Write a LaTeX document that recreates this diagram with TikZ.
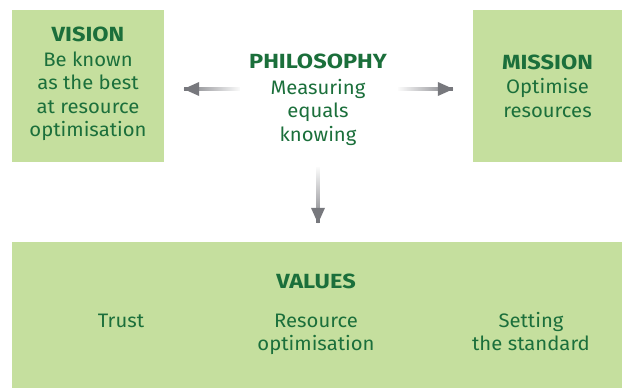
\documentclass[tikz,border=0pt]{standalone}
\usepackage{fontspec}
\setmainfont{Fira Sans}[FakeStretch=1.04]
\newfontfamily\headfont{Fira Sans}[FakeStretch=1.15]
\usetikzlibrary{arrows.meta,fadings}
\definecolor{leaf}{HTML}{C5DF9E}
\definecolor{ink}{HTML}{1B6F3B}
\definecolor{steel}{HTML}{77787D}
\newcommand{\headline}[1]{{\headfont\bfseries\fontsize{20.5}{23.5}\selectfont #1}}
% opaque at the head (left), gone at the tail (right)
\tikzfading[name=tailfade, left color=transparent!0, middle color=transparent!25,
	right color=transparent!100]
\tikzset{
	box/.style={fill=leaf, inner sep=0pt},
	word/.style={align=center, text=ink, inner sep=0pt, anchor=base,
		font=\fontsize{19.5}{23.5}\selectfont},
	shaft/.style={steel, line width=3.5pt, shorten >=8pt},
	tip/.style={steel, line width=3.5pt,
		-{Triangle[length=16pt,width=13pt]}}
}
\begin{document}
\begin{tikzpicture}
	[x=1pt,y=-1pt]
	\useasboundingbox (0,0) rectangle (622,388);
	% boxes
	\node[box, minimum width=152, minimum height=152] (vision) at (88,86) {};
	\node[box, minimum width=149, minimum height=152] (mission) at (547.5,86) {};
	\node[box, minimum width=610, minimum height=146] (values) at (317,315) {};
	% texts (placed at the baseline of their last line)
	\node[word] (vtext) at (88,136.5)
		{\headline{VISION}\\[1.5pt]Be known\\as the best\\at resource\\optimisation};
	\node[word] (mtext) at (547.5,117)
		{\headline{MISSION}\\[0.5pt]Optimise\\resources};
	\node[word] (phil) at (318,141)
		{\headline{PHILOSOPHY}\\[2pt]Measuring\\equals\\knowing};
	\node[word] (title) at (316,288) {\headline{VALUES}};
	\node[word] (trust) at (121,327.7) {Trust};
	\node[word] (resource) at (316,350.5) {Resource\\optimisation};
	\node[word] (standard) at (531,350.5) {Setting\\the standard};
	% arrows from the philosophy
	\coordinate (ltail) at (240,89);
	\coordinate (rtail) at (398,89);
	\coordinate (dtail) at (318,167);
	\coordinate (ltip) at ([xshift=19pt]vision.east |- ltail);
	\coordinate (rtip) at ([xshift=-19pt]mission.west |- rtail);
	\coordinate (dtip) at ([yshift=18pt]values.north -| dtail);
	\draw[shaft, path fading=tailfade] (ltail) -- (ltip);
	\draw[tip] ([xshift=1pt]ltip) -- (ltip);
	\draw[shaft, path fading=tailfade, fading angle=180] (rtail) -- (rtip);
	\draw[tip] ([xshift=-1pt]rtip) -- (rtip);
	\draw[shaft, path fading=tailfade, fading angle=90] (dtail) -- (dtip);
	\draw[tip] ([yshift=1pt]dtip) -- (dtip);
\end{tikzpicture}
\end{document}
